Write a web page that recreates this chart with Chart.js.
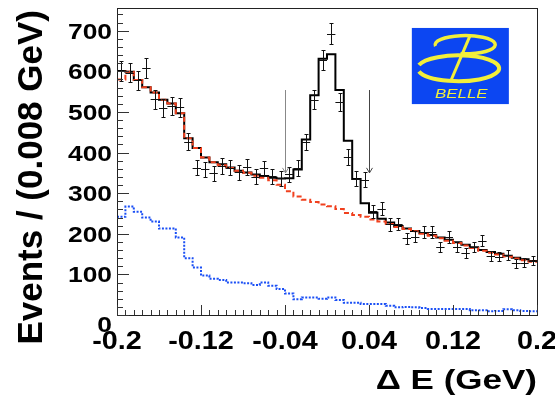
<!DOCTYPE html>
<html>
<head>
<meta charset="utf-8">
<script src="https://cdn.jsdelivr.net/npm/chart.js@4"></script>
<style>
  html, body { margin: 0; padding: 0; background: #fff; }
  canvas { display: block; }
</style>
</head>
<body>
<canvas id="de-chart" width="555" height="398"></canvas>
<script>
// Delta E distribution, 50 bins of 0.008 GeV from -0.2 to 0.2

var binLow = -0.2;
var binWidth = 0.008;

// data points (events per bin)
var dataCounts = [601, 597, 578, 609, 531, 510, 514, 511, 427, 363,
                  359, 349, 367, 363, 351, 364, 341, 361, 342, 337,
                  347, 362, 426, 530, 628, 693, 525, 389, 336, 333,
                  256, 262, 223, 225, 189, 193, 205, 205, 167, 192,
                  168, 153, 168, 183, 145, 144, 148, 127, 129, 134];

// total fit
var fitTotal = [601, 599, 579, 561, 548, 530, 521, 497, 435, 411,
                388, 376, 371, 363, 355, 351, 346, 342, 338, 336,
                337, 358, 432, 541, 631, 642, 554, 429, 335, 275,
                252, 237, 228, 219, 213, 207, 202, 197, 191, 185,
                179, 173, 167, 160, 155, 151, 146, 141, 137, 133];

// background component (red dashed)
var fitBackground = [580, 599, 579, 561, 548, 530, 521, 497, 435, 411,
                     388, 376, 369, 362, 355, 350, 343, 338, 332, 321,
                     305, 292, 284, 278, 272, 268, 261, 251, 246, 242,
                     235, 230, 224, 217, 212, 206, 200, 195, 189, 183,
                     177, 171, 165, 158, 153, 149, 144, 139, 135, 131];

// second component (blue dotted)
var fitOther = [242, 267, 254, 240, 230, 213, 213, 191, 140, 117,
                97, 89, 86, 80, 80, 78, 74, 80, 72, 64,
                53, 39, 43, 43, 40, 43, 37, 30, 30, 27,
                27, 27, 23, 19, 20, 19, 17, 15, 15, 15,
                15, 15, 12, 12, 9, 10, 14, 12, 10, 9];

var xTickValues = [-0.2, -0.12, -0.04, 0.04, 0.12, 0.2];
var xTickLabels = ['-0.2', '-0.12', '-0.04', '0.04', '0.12', '0.2'];
var yTickValues = [0, 100, 200, 300, 400, 500, 600, 700];
var yTickLabels = ['0', '100', '200', '300', '400', '500', '600', '700'];

// signal window arrows
var arrowX = [-0.04, 0.04];
var arrowTop = 554;
var arrowBottom = 350;

function binCenter(i) { return binLow + binWidth * (i + 0.5); }

// step histogram: one point per bin low edge, last point closes the final bin
function histPoints(values) {
    var pts = [];
    for (var i = 0; i < values.length; i++) {
        pts.push({ x: binLow + binWidth * i, y: values[i] });
    }
    pts.push({ x: binLow + binWidth * values.length, y: values[values.length - 1] });
    return pts;
}

var dataPoints = dataCounts.map(function(v, i) { return { x: binCenter(i), y: v }; });

var textFont = '"Liberation Sans", Arial, Helvetica, sans-serif';

// the ROOT picture has its glyphs a bit wider than normal
function stretchedText(ctx, text, x, y, sx, align) {
    ctx.save();
    ctx.translate(x, y);
    ctx.scale(sx, 1);
    ctx.textAlign = align;
    ctx.fillText(text, 0, 0);
    ctx.restore();
}

var errorBars = {
    id: 'errorBars',
    afterDatasetsDraw: function(chart) {
        var ctx = chart.ctx, xs = chart.scales.x, ys = chart.scales.y;
        ctx.save();
        ctx.strokeStyle = '#111';
        ctx.lineWidth = 1;
        dataPoints.forEach(function(p) {
            var px = Math.round(xs.getPixelForValue(p.x)) + 0.5;
            var py = Math.round(ys.getPixelForValue(p.y)) + 0.5;
            var err = Math.sqrt(p.y);
            var yHi = Math.round(ys.getPixelForValue(p.y + err)) + 0.5;
            var yLo = Math.round(ys.getPixelForValue(p.y - err)) + 0.5;
            var xL = xs.getPixelForValue(p.x - binWidth / 2);
            var xR = xs.getPixelForValue(p.x + binWidth / 2);
            ctx.beginPath();
            ctx.moveTo(xL, py); ctx.lineTo(xR, py);
            ctx.moveTo(px, yHi); ctx.lineTo(px, yLo);
            ctx.moveTo(px - 2, yHi); ctx.lineTo(px + 2, yHi);
            ctx.moveTo(px - 2, yLo); ctx.lineTo(px + 2, yLo);
            ctx.stroke();
        });
        ctx.restore();
    }
};

var frameAndAxes = {
    id: 'frameAndAxes',
    afterDraw: function(chart) {
        var ctx = chart.ctx, a = chart.chartArea, xs = chart.scales.x, ys = chart.scales.y;
        ctx.save();

        // signal region arrows
        ctx.lineWidth = 1;
        arrowX.forEach(function(v, i) {
            var px = Math.round(xs.getPixelForValue(v)) + 0.5;
            var top = ys.getPixelForValue(arrowTop);
            var bot = ys.getPixelForValue(arrowBottom);
            ctx.strokeStyle = i === 0 ? '#888' : '#444';
            ctx.beginPath();
            ctx.moveTo(px, top); ctx.lineTo(px, bot);
            ctx.moveTo(px - 3, bot - 5); ctx.lineTo(px, bot); ctx.lineTo(px + 3, bot - 5);
            ctx.stroke();
        });

        // frame
        ctx.strokeStyle = '#222';
        ctx.strokeRect(a.left + 0.5, a.top + 0.5, a.width, a.height);

        // major and minor ticks
        ctx.strokeStyle = '#333';
        ctx.beginPath();
        for (var k = 0; k <= 50; k++) {
            var px = Math.round(xs.getPixelForValue(binLow + binWidth * k)) + 0.5;
            var len = (k % 10 === 0) ? 10 : 5;
            ctx.moveTo(px, a.bottom); ctx.lineTo(px, a.bottom - len);
        }
        for (var m = 0; m <= 37; m++) {
            var py = Math.round(ys.getPixelForValue(m * 20)) + 0.5;
            var ylen = (m % 5 === 0) ? 12 : 6;
            ctx.moveTo(a.left, py); ctx.lineTo(a.left + ylen, py);
        }
        ctx.stroke();

        // tick labels
        ctx.fillStyle = '#000';
        ctx.font = 'bold 22px ' + textFont;
        ctx.textBaseline = 'middle';
        yTickValues.forEach(function(v, i) {
            var py = ys.getPixelForValue(v) + (v === 0 ? 11 : 2);
            stretchedText(ctx, yTickLabels[i], a.left - 5, py, 1.2, 'right');
        });
        ctx.font = 'bold 25px ' + textFont;
        xTickValues.forEach(function(v, i) {
            stretchedText(ctx, xTickLabels[i], xs.getPixelForValue(v), a.bottom + 27, 1.15, 'center');
        });

        // axis titles
        ctx.textBaseline = 'alphabetic';
        ctx.font = 'bold 28px ' + textFont;
        stretchedText(ctx, '\u0394 E (GeV)', a.right, 389, 1.25, 'right');

        ctx.save();
        ctx.translate(42, 10);
        ctx.rotate(-Math.PI / 2);
        ctx.font = 'bold 35px ' + textFont;
        ctx.textAlign = 'right';
        ctx.fillText('Events / (0.008 GeV)', 0, 0);
        ctx.restore();

        // Belle logo
        var lx = a.left + a.width * 0.702, ly = a.top + a.height * 0.065;
        var lw = a.width * 0.231, lh = a.height * 0.248;
        ctx.fillStyle = '#0c46f2';
        ctx.fillRect(lx, ly, lw, lh);
        ctx.strokeStyle = '#f2ef3a';
        ctx.fillStyle = '#f2ef3a';
        ctx.lineWidth = 4;
        ctx.beginPath();
        ctx.ellipse(lx + lw * 0.48, ly + lh * 0.53, lw * 0.42, lh * 0.17, 0, Math.PI * 1.08, Math.PI * 0.92);
        ctx.stroke();
        ctx.lineWidth = 3.5;
        ctx.beginPath();
        ctx.ellipse(lx + lw * 0.55, ly + lh * 0.22, lw * 0.31, lh * 0.12, 0, Math.PI * 0.95, Math.PI * 0.55);
        ctx.stroke();
        ctx.lineWidth = 3;
        ctx.beginPath();
        ctx.moveTo(lx + lw * 0.6, ly + lh * 0.1);
        ctx.lineTo(lx + lw * 0.4, ly + lh * 0.7);
        ctx.stroke();
        ctx.font = 'italic 13px ' + textFont;
        ctx.textBaseline = 'middle';
        stretchedText(ctx, 'BELLE', lx + lw * 0.51, ly + lh * 0.87, 1.3, 'center');

        ctx.restore();
    }
};

var chart = new Chart(document.getElementById('de-chart').getContext('2d'), {
    type: 'line',
    data: {
        datasets: [
            { label: 'Data', data: dataPoints, showLine: false, pointRadius: 0 },
            { label: 'Background', data: histPoints(fitBackground), stepped: 'before',
              borderColor: '#f0401e', borderWidth: 2, borderDash: [5, 3], pointRadius: 0, fill: false },
            { label: 'Total fit', data: histPoints(fitTotal), stepped: 'before',
              borderColor: '#000', borderWidth: 2, pointRadius: 0, fill: false },
            { label: 'Other', data: histPoints(fitOther), stepped: 'before',
              borderColor: '#1a4ff5', borderWidth: 2, borderDash: [2, 1.5], pointRadius: 0, fill: false }
        ]
    },
    options: {
        responsive: false,
        animation: false,
        layout: { padding: { left: 0, right: 18, top: 8, bottom: 0 } },
        plugins: { legend: { display: false }, tooltip: { enabled: false } },
        scales: {
            x: {
                type: 'linear', min: -0.2, max: 0.2,
                grid: { display: false }, border: { display: false },
                ticks: { display: false },
                afterFit: function(scale) { scale.height = 83; }
            },
            y: {
                type: 'linear', min: 0, max: 756,
                grid: { display: false }, border: { display: false },
                ticks: { display: false },
                afterFit: function(scale) { scale.width = 117; }
            }
        }
    },
    plugins: [errorBars, frameAndAxes]
});
</script>
</body>
</html>
